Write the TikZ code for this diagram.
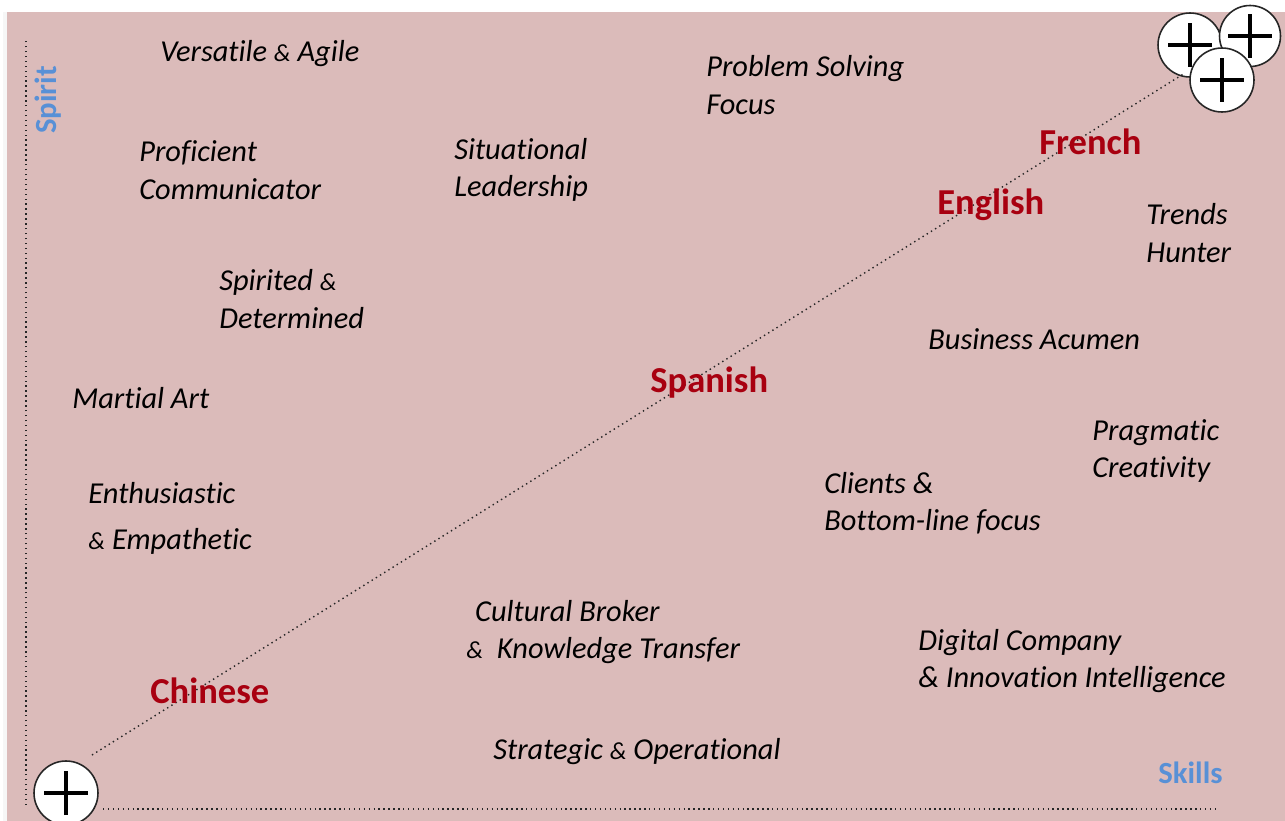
\documentclass[tikz,border=0pt]{standalone}
\usepackage{fontspec}
\setmainfont[Ligatures=NoCommon]{Carlito}
\usepackage{xcolor}
\usepackage{tikz}
\usetikzlibrary{positioning,calc,shadows}
\definecolor{mapbg}{RGB}{219,187,186}
\definecolor{langred}{RGB}{168,0,16}
\definecolor{axisblue}{RGB}{88,144,214}
\newcommand{\smallamp}{{\fontsize{14}{14}\selectfont\&}}
\pgfdeclareradialshading{ballrim}{\pgfpoint{0bp}{0bp}}{%
  color(0bp)=(white); color(37bp)=(white); color(45bp)=(black!25); color(50bp)=(black!60)}
\tikzset{
  trait/.style={anchor=west, inner sep=0pt, align=left,
                font=\fontsize{17.3}{21.3}\selectfont\itshape},
  lang/.style={anchor=west, inner sep=0pt, text=langred,
               font=\fontsize{20.8}{24}\selectfont\bfseries},
  axlbl/.style={inner sep=0pt, text=axisblue,
                font=\fontsize{17.5}{20}\selectfont\bfseries},
  axis/.style={dotted, line width=0.8pt, black!85},
  plusball/.style={circle, minimum size=1.28cm, inner sep=0pt,
                   draw=black!85, line width=0.9pt, shading=ballrim,
                   path picture={
                     \draw[line width=2.6pt, black]
                       ([xshift=-0.44cm]path picture bounding box.center) --
                       ([xshift=0.44cm]path picture bounding box.center)
                       ([yshift=-0.44cm]path picture bounding box.center) --
                       ([yshift=0.44cm]path picture bounding box.center);}}
}

\begin{document}
\begin{tikzpicture}[x=0.02cm, y=-0.02cm]
\useasboundingbox (0,0) rectangle (1285,821);
\fill[white] (0,0) rectangle (1285,821);
\fill[mapbg, drop shadow={opacity=0.07, shadow xshift=-2pt, shadow yshift=0pt}]
  (7,12) rectangle (1285,821);

% axes
\coordinate (ytop) at (26,38);
\coordinate (ybot) at (26,805);
\coordinate (xleft) at (103,809);
\coordinate (xright) at (1217,809);
\draw[axis] (ybot) -- (ytop);
\draw[axis] (xleft) -- (xright);
\node[axlbl, rotate=90] (spirit) at (48,100) {Spirit};
\node[axlbl, anchor=west] (skills) at (1158,773) {Skills};

% corner balls
\node[plusball] (low) at (66,793) {};
\node[plusball] (top1) at (1190,45) {};
\node[plusball, minimum size=1.22cm] (top2) at (1250,36) {};
\node[plusball] (top3) at (1222,80) {};

% diagonal between the corners
\coordinate (dstart) at (92,755);
\coordinate (dend) at (1185,73);
\draw[axis] (dstart) -- (dend);

% languages along the diagonal
\node[lang] (french) at (1039,142) {French};
\node[lang] (english) at (937,205) {English};
\node[lang] (spanish) at (650,383) {Spanish};
\node[lang] (chinese) at (150,691) {Chinese};

% spirit side
\node[trait] (versatile) at (160,54) {Versatile \smallamp{} Agile};
\node[trait] (proficient) at (139,170) {Proficient\\Communicator};
\node[trait] (spirited) at (219,299) {Spirited \smallamp\\Determined};
\node[trait] (martial) at (72,398) {Martial Art};
\node[trait] (enthus) at (88,518) {Enthusiastic\\[5pt]\smallamp{} Empathetic};
\node[trait] (situational) at (454,170) {Situational\\Leadership};
\node[trait] (problem) at (706,85) {Problem Solving\\Focus};

% skills side
\node[trait] (trends) at (1146,233) {Trends\\Hunter};
\node[trait] (acumen) at (928,339) {Business Acumen};
\node[trait] (pragmatic) at (1092,451) {Pragmatic\\Creativity};
\node[trait] (clients) at (824,503) {Clients \&\\Bottom-line focus};
\node[trait] (cultural) at (466,632) {\hspace{5pt}Cultural Broker\\\smallamp\ \ Knowledge Transfer};
\node[trait] (digital) at (918,661) {Digital Company\\\& Innovation Intelligence};
\node[trait] (strategic) at (493,752) {Strategic \smallamp{} Operational};
\end{tikzpicture}
\end{document}
